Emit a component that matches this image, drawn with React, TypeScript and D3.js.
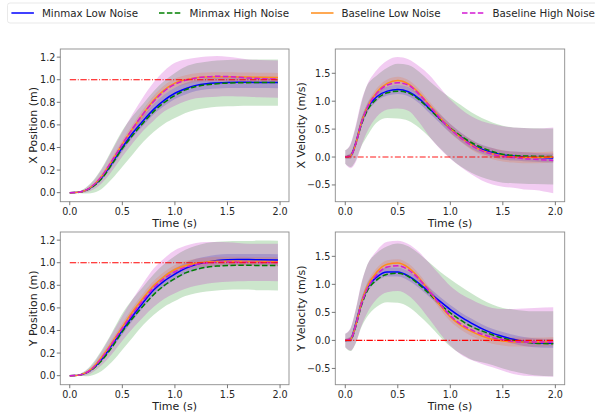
import * as d3 from 'd3';

// time samples (s)
const T = [0, 0.05, 0.1, 0.15, 0.2, 0.3, 0.4, 0.5, 0.6, 0.7, 0.8, 0.9, 1.0, 1.1, 1.2, 1.3, 1.4, 1.5, 1.6, 1.7, 1.8, 1.98];

const SERIES = ['Minmax Low Noise', 'Minmax High Noise', 'Baseline Low Noise', 'Baseline High Noise'];

// X position means / std
const xposMinmaxLow = [0, 0.001, 0.006, 0.02, 0.045, 0.13, 0.26, 0.40, 0.53, 0.64, 0.74, 0.82, 0.88, 0.92, 0.95, 0.965, 0.972, 0.976, 0.977, 0.977, 0.976, 0.975];
const xposMinmaxHigh = [0, 0.001, 0.005, 0.018, 0.04, 0.12, 0.25, 0.39, 0.51, 0.62, 0.72, 0.80, 0.86, 0.91, 0.94, 0.955, 0.965, 0.97, 0.973, 0.974, 0.975, 0.975];
const xposBaseLow = [0, 0.001, 0.006, 0.02, 0.048, 0.14, 0.28, 0.43, 0.57, 0.70, 0.82, 0.91, 0.97, 1.0, 1.018, 1.025, 1.027, 1.027, 1.025, 1.023, 1.021, 1.02];
const xposBaseHigh = [0, 0.001, 0.006, 0.02, 0.047, 0.14, 0.28, 0.43, 0.57, 0.70, 0.81, 0.90, 0.96, 0.995, 1.015, 1.025, 1.03, 1.028, 1.022, 1.015, 1.01, 1.005];
const xposStdMinmaxLow = [0, 0.001, 0.003, 0.006, 0.01, 0.02, 0.03, 0.035, 0.04, 0.045, 0.045, 0.05, 0.05, 0.05, 0.05, 0.05, 0.05, 0.05, 0.05, 0.05, 0.05, 0.05];
const xposStdMinmaxHigh = [0, 0.002, 0.01, 0.025, 0.045, 0.09, 0.13, 0.16, 0.17, 0.17, 0.18, 0.19, 0.2, 0.205, 0.205, 0.205, 0.205, 0.205, 0.205, 0.205, 0.205, 0.205];
const xposStdBaseLow = [0, 0.001, 0.003, 0.006, 0.01, 0.02, 0.03, 0.035, 0.035, 0.04, 0.04, 0.04, 0.04, 0.04, 0.04, 0.04, 0.04, 0.04, 0.04, 0.04, 0.04, 0.04];
const xposStdBaseHigh = [0, 0.002, 0.01, 0.02, 0.03, 0.06, 0.09, 0.11, 0.13, 0.15, 0.17, 0.18, 0.19, 0.185, 0.18, 0.18, 0.18, 0.175, 0.17, 0.165, 0.165, 0.165];

// X velocity
const xvelMinmaxLow = [0, 0.02, 0.25, 0.6, 0.84, 1.08, 1.18, 1.21, 1.17, 1.05, 0.87, 0.69, 0.51, 0.36, 0.23, 0.14, 0.08, 0.035, 0.018, 0.006, -0.006, -0.018];
const xvelMinmaxHigh = [0, 0.02, 0.24, 0.56, 0.8, 1.04, 1.15, 1.18, 1.15, 1.03, 0.86, 0.68, 0.52, 0.38, 0.26, 0.17, 0.1, 0.05, 0.03, 0.02, 0.015, 0.01];
const xvelBaseLow = [0, 0.02, 0.24, 0.6, 0.85, 1.16, 1.32, 1.37, 1.31, 1.15, 0.93, 0.71, 0.51, 0.35, 0.22, 0.12, 0.06, 0.02, 0.0, -0.01, -0.01, 0.0];
const xvelBaseHigh = [0, 0.02, 0.24, 0.58, 0.84, 1.14, 1.29, 1.33, 1.29, 1.13, 0.92, 0.7, 0.5, 0.34, 0.21, 0.11, 0.05, 0.01, -0.01, -0.03, -0.04, -0.06];
const xvelStdMinmaxLow = [0.03, 0.05, 0.07, 0.08, 0.08, 0.08, 0.08, 0.08, 0.08, 0.08, 0.08, 0.08, 0.08, 0.08, 0.08, 0.08, 0.08, 0.08, 0.08, 0.08, 0.08, 0.08];
const xvelStdMinmaxHigh = [0.12, 0.2, 0.3, 0.38, 0.45, 0.42, 0.45, 0.49, 0.5, 0.5, 0.5, 0.52, 0.54, 0.55, 0.54, 0.53, 0.52, 0.51, 0.5, 0.5, 0.5, 0.5];
const xvelStdBaseLow = [0.03, 0.05, 0.07, 0.07, 0.07, 0.07, 0.07, 0.07, 0.07, 0.07, 0.07, 0.07, 0.08, 0.08, 0.09, 0.09, 0.1, 0.1, 0.1, 0.1, 0.1, 0.1];
const xvelStdBaseHigh = [0.12, 0.22, 0.33, 0.4, 0.42, 0.42, 0.44, 0.46, 0.46, 0.5, 0.55, 0.55, 0.53, 0.52, 0.52, 0.53, 0.54, 0.54, 0.54, 0.55, 0.55, 0.59];

// Y position
const yposMinmaxLow = [0, 0.001, 0.007, 0.022, 0.05, 0.14, 0.27, 0.40, 0.53, 0.65, 0.76, 0.84, 0.90, 0.95, 0.985, 1.005, 1.02, 1.027, 1.028, 1.028, 1.027, 1.025];
const yposMinmaxHigh = [0, 0.001, 0.006, 0.02, 0.045, 0.13, 0.25, 0.39, 0.51, 0.62, 0.72, 0.80, 0.86, 0.91, 0.94, 0.96, 0.97, 0.975, 0.977, 0.977, 0.976, 0.975];
const yposBaseLow = [0, 0.001, 0.007, 0.024, 0.055, 0.16, 0.29, 0.43, 0.57, 0.69, 0.80, 0.88, 0.94, 0.975, 0.995, 1.007, 1.012, 1.013, 1.012, 1.011, 1.01, 1.008];
const yposBaseHigh = [0, 0.001, 0.007, 0.022, 0.05, 0.15, 0.28, 0.42, 0.55, 0.67, 0.78, 0.86, 0.92, 0.96, 0.985, 0.998, 1.004, 1.006, 1.005, 1.004, 1.003, 1.002];
const yposStdMinmaxLow = [0, 0.001, 0.003, 0.006, 0.01, 0.02, 0.03, 0.035, 0.04, 0.045, 0.045, 0.05, 0.05, 0.05, 0.05, 0.05, 0.05, 0.05, 0.05, 0.05, 0.05, 0.05];
const yposStdMinmaxHigh = [0, 0.002, 0.01, 0.025, 0.045, 0.09, 0.13, 0.16, 0.17, 0.17, 0.18, 0.19, 0.2, 0.205, 0.21, 0.215, 0.215, 0.215, 0.215, 0.215, 0.22, 0.22];
const yposStdBaseLow = [0, 0.001, 0.003, 0.006, 0.01, 0.02, 0.03, 0.035, 0.035, 0.04, 0.04, 0.04, 0.04, 0.04, 0.04, 0.04, 0.04, 0.04, 0.04, 0.04, 0.04, 0.04];
const yposStdBaseHigh = [0, 0.002, 0.01, 0.02, 0.03, 0.06, 0.09, 0.11, 0.13, 0.15, 0.17, 0.18, 0.19, 0.19, 0.19, 0.185, 0.18, 0.175, 0.17, 0.165, 0.165, 0.165];

// Y velocity
const yvelMinmaxLow = [0, 0.02, 0.3, 0.65, 0.9, 1.13, 1.22, 1.22, 1.15, 1.02, 0.86, 0.7, 0.55, 0.42, 0.31, 0.21, 0.13, 0.07, 0.02, -0.02, -0.04, -0.05];
const yvelMinmaxHigh = [0, 0.01, 0.25, 0.6, 0.85, 1.08, 1.18, 1.2, 1.14, 1.0, 0.83, 0.65, 0.49, 0.36, 0.25, 0.17, 0.1, 0.04, 0.0, -0.03, -0.05, -0.06];
const yvelBaseLow = [0, 0.02, 0.28, 0.65, 0.92, 1.22, 1.36, 1.38, 1.3, 1.12, 0.88, 0.63, 0.42, 0.27, 0.16, 0.08, 0.02, -0.01, -0.03, -0.03, -0.03, -0.02];
const yvelBaseHigh = [0, 0.02, 0.26, 0.62, 0.88, 1.17, 1.31, 1.33, 1.26, 1.1, 0.88, 0.65, 0.44, 0.29, 0.19, 0.11, 0.05, 0.01, -0.02, -0.03, -0.03, -0.03];
const yvelStdMinmaxLow = [0.03, 0.05, 0.07, 0.08, 0.08, 0.08, 0.08, 0.08, 0.08, 0.08, 0.08, 0.08, 0.08, 0.08, 0.08, 0.08, 0.08, 0.08, 0.08, 0.08, 0.08, 0.08];
const yvelStdMinmaxHigh = [0.12, 0.2, 0.3, 0.38, 0.45, 0.48, 0.5, 0.53, 0.54, 0.55, 0.56, 0.58, 0.6, 0.6, 0.59, 0.56, 0.54, 0.54, 0.55, 0.56, 0.57, 0.58];
const yvelStdBaseLow = [0.03, 0.05, 0.07, 0.07, 0.07, 0.07, 0.07, 0.07, 0.07, 0.07, 0.07, 0.07, 0.08, 0.08, 0.08, 0.08, 0.08, 0.08, 0.08, 0.08, 0.08, 0.08];
const yvelStdBaseHigh = [0.12, 0.2, 0.3, 0.38, 0.42, 0.43, 0.45, 0.45, 0.46, 0.48, 0.5, 0.52, 0.53, 0.54, 0.54, 0.53, 0.53, 0.55, 0.58, 0.6, 0.61, 0.62];

const X_TICKS = [0, 0.5, 1.0, 1.5, 2.0];
const POS_TICKS = [0, 0.2, 0.4, 0.6, 0.8, 1.0, 1.2];
const VEL_TICKS = [-0.5, 0, 0.5, 1.0, 1.5];

const COLORS = ['#0000ff', '#008000', '#ff7f0e', '#bf00bf'];
const LINE_COLORS = ['#0000ff', '#008000', '#ff8c1a', '#d41ad4'];
const DASH = [null, '5.5,2.4', null, '5.5,2.4'];
const FONT = 'DejaVu Sans';

const panels = [
  {
    id: 'xp', ylabel: 'X Position (m)', means: [xposMinmaxLow, xposMinmaxHigh, xposBaseLow, xposBaseHigh],
    stds: [xposStdMinmaxLow, xposStdMinmaxHigh, xposStdBaseLow, xposStdBaseHigh],
    ref: 1, yTicks: POS_TICKS, yDomain: [-0.08, 1.272], xDomain: [-0.09, 2.085],
    box: [60.3, 49, 289, 201.7], labelX: 37, faintRef: false,
  },
  {
    id: 'xv', ylabel: 'X Velocity (m/s)', means: [xvelMinmaxLow, xvelMinmaxHigh, xvelBaseLow, xvelBaseHigh],
    stds: [xvelStdMinmaxLow, xvelStdMinmaxHigh, xvelStdBaseLow, xvelStdBaseHigh],
    ref: 0, yTicks: VEL_TICKS, yDomain: [-0.8, 1.935], xDomain: [-0.095, 2.089],
    box: [335.3, 49, 564.7, 201.7], labelX: 305, faintRef: true,
  },
  {
    id: 'yp', ylabel: 'Y Position (m)', means: [yposMinmaxLow, yposMinmaxHigh, yposBaseLow, yposBaseHigh],
    stds: [yposStdMinmaxLow, yposStdMinmaxHigh, yposStdBaseLow, yposStdBaseHigh],
    ref: 1, yTicks: POS_TICKS, yDomain: [-0.08, 1.272], xDomain: [-0.09, 2.085],
    box: [60.3, 232, 289, 384.7], labelX: 37, faintRef: false,
  },
  {
    id: 'yv', ylabel: 'Y Velocity (m/s)', means: [yvelMinmaxLow, yvelMinmaxHigh, yvelBaseLow, yvelBaseHigh],
    stds: [yvelStdMinmaxLow, yvelStdMinmaxHigh, yvelStdBaseLow, yvelStdBaseHigh],
    ref: 0, yTicks: VEL_TICKS, yDomain: [-0.79, 1.934], xDomain: [-0.095, 2.089],
    box: [335.3, 232, 564.7, 384.7], labelX: 305, faintRef: false,
  },
];

const fmt = (v) => {
  const s = d3.format('.1f')(Math.abs(v) < 1e-9 ? 0 : v);
  return s.replace('-', '\u2212');
};

const Panel = ({ p }) => {
  const [x0, y0, x1, y1] = p.box;
  const x = d3.scaleLinear(p.xDomain, [x0, x1]);
  const y = d3.scaleLinear(p.yDomain, [y1, y0]);
  const idx = d3.range(T.length);
  const area = (m, s) =>
    d3.area().curve(d3.curveMonotoneX).x((i) => x(T[i])).y0((i) => y(m[i] - s[i])).y1((i) => y(m[i] + s[i]))(idx);
  const line = (m) => d3.line().curve(d3.curveMonotoneX).x((i) => x(T[i])).y((i) => y(m[i]))(idx);
  const clip = `clip-${p.id}`;
  return (
    <g>
      <defs>
        <clipPath id={clip}>
          <rect x={x0} y={y0} width={x1 - x0} height={y1 - y0} />
        </clipPath>
      </defs>
      <g clipPath={`url(#${clip})`}>
        {p.means.map((m, k) => (
          <path key={'b' + k} d={area(m, p.stds[k])} fill={COLORS[k]} fillOpacity={0.2} stroke="none" />
        ))}
        {p.means.map((m, k) => (
          <path key={'l' + k} d={line(m)} fill="none" stroke={LINE_COLORS[k]} strokeWidth={1.5}
            strokeDasharray={DASH[k] || undefined} />
        ))}
        <line x1={x(T[0])} x2={x(T[T.length - 1])} y1={y(p.ref)} y2={y(p.ref)}
          stroke="#ff0000" strokeWidth={p.faintRef ? 2 : 1.1} strokeOpacity={p.faintRef ? 0.45 : 1}
          strokeDasharray={p.faintRef ? '6,2.2,2,2.2' : '6.4,1.6,1,1.6'} />
      </g>
      <rect x={x0} y={y0} width={x1 - x0} height={y1 - y0} fill="none" stroke="#8c8c8c" strokeWidth={0.9} />
      {X_TICKS.map((t) => (
        <g key={'x' + t}>
          <line x1={x(t)} x2={x(t)} y1={y1} y2={y1 + 3.5} stroke="#555" strokeWidth={0.8} />
          <text x={x(t)} y={y1 + 13.5} textAnchor="middle" fontSize={9.6} fill="#262626" fontFamily={FONT}>{fmt(t)}</text>
        </g>
      ))}
      {p.yTicks.map((t) => (
        <g key={'y' + t}>
          <line x1={x0 - 3.5} x2={x0} y1={y(t)} y2={y(t)} stroke="#555" strokeWidth={0.8} />
          <text x={x0 - 5} y={y(t) + 3.5} textAnchor="end" fontSize={9.6} fill="#262626" fontFamily={FONT}>{fmt(t)}</text>
        </g>
      ))}
      <text x={(x0 + x1) / 2} y={y1 + 25.5} textAnchor="middle" fontSize={11} fill="#222" fontFamily={FONT}>Time (s)</text>
      <text transform={`translate(${p.labelX},${(y0 + y1) / 2}) rotate(-90)`} textAnchor="middle" fontSize={11}
        fill="#222" fontFamily={FONT}>{p.ylabel}</text>
    </g>
  );
};

const LEGEND_X = [11.4, 159, 311, 462];

const Legend = () => (
  <g>
    <rect x={7.5} y={3} width={600} height={20} rx={2.5} fill="#fff" stroke="#e3e3e3" strokeWidth={0.8} />
    {SERIES.map((s, k) => (
      <g key={s}>
        <line x1={LEGEND_X[k]} x2={LEGEND_X[k] + 22.5} y1={13} y2={13} stroke={LINE_COLORS[k]} strokeWidth={1.5}
          strokeDasharray={DASH[k] || undefined} />
        <text x={LEGEND_X[k] + 30.5} y={16.8} fontSize={10.3} fill="#262626" fontFamily={FONT}>{s}</text>
      </g>
    ))}
  </g>
);

export default function App() {
  return (
    <svg width={595} height={414} style={{ position: 'absolute', left: 0, top: 0, background: '#fff' }}>
      <rect width={595} height={414} fill="#fff" />
      <Legend />
      {panels.map((p) => <Panel key={p.id} p={p} />)}
    </svg>
  );
}
